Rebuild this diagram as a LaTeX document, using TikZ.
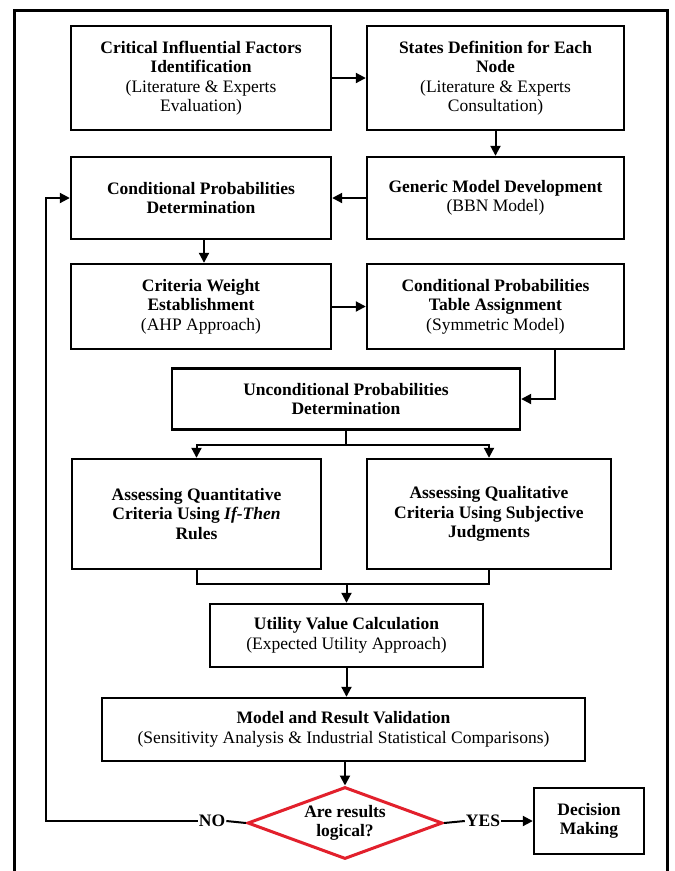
\documentclass[tikz,border=0pt]{standalone}
\usepackage{fontspec}
\setmainfont{Liberation Serif}
\usetikzlibrary{shapes.geometric,arrows.meta,calc}
\definecolor{dred}{RGB}{226,32,44}
\begin{document}
\begin{tikzpicture}[x=1pt,y=-1pt,
  box/.style={draw,line width=2.4pt,align=center,inner sep=2pt,
    font=\fontsize{17.5}{19.5}\selectfont},
  arr/.style={line width=2pt,-{Triangle[length=10pt,width=10pt]}},
  ln/.style={line width=2pt},
  lbl/.style={font=\fontsize{17.5}{19.5}\selectfont\bfseries,inner sep=1pt}]
\useasboundingbox (0,0) rectangle (675,871);
\fill[white] (0,0) rectangle (675,871);
\draw[line width=3pt] (14,871) -- (14,10) -- (667.5,10) -- (667.5,871);

\node[box,minimum width=260pt,minimum height=104pt] (b1) at (201,78)
  {\textbf{Critical Influential Factors}\\\textbf{Identification}\\(Literature \& Experts\\Evaluation)};
\node[box,minimum width=257pt,minimum height=104pt] (b2) at (495.5,78)
  {\textbf{States Definition for Each}\\\textbf{Node}\\(Literature \& Experts\\Consultation)};
\node[box,minimum width=260pt,minimum height=82pt] (b3) at (201,198)
  {\textbf{Conditional Probabilities}\\\textbf{Determination}};
\node[box,minimum width=257pt,minimum height=82pt] (b4) at (495.5,198)
  {\textbf{Generic Model Development}\\(BBN Model)};
\node[box,minimum width=260pt,minimum height=85pt] (b5) at (201,306.5)
  {\textbf{Criteria Weight}\\\textbf{Establishment}\\(AHP Approach)};
\node[box,minimum width=257pt,minimum height=85pt] (b6) at (495.5,306.5)
  {\textbf{Conditional Probabilities}\\\textbf{Table Assignment}\\(Symmetric Model)};
\node[box,minimum width=348pt,minimum height=61pt] (b7) at (346,399)
  {\textbf{Unconditional Probabilities}\\\textbf{Determination}};
\node[box,minimum width=249pt,minimum height=110pt] (b8) at (196.5,514)
  {\textbf{Assessing Quantitative}\\\textbf{Criteria Using \textit{If-Then}}\\\textbf{Rules}};
\node[box,minimum width=244pt,minimum height=110pt] (b9) at (489,514)
  {\textbf{Assessing Qualitative}\\\textbf{Criteria Using Subjective}\\\textbf{Judgments}};
\node[box,minimum width=273pt,minimum height=63pt] (b10) at (346.5,635.5)
  {\textbf{Utility Value Calculation}\\(Expected Utility Approach)};
\node[box,minimum width=483pt,minimum height=63pt] (b11) at (343.5,729.5)
  {\textbf{Model and Result Validation}\\(Sensitivity Analysis \& Industrial Statistical Comparisons)};
\node[box,shape=diamond,draw=dred,line width=3pt,aspect=2.7,inner sep=0pt,
  minimum width=195pt,minimum height=72pt] (dia) at (345,823)
  {\textbf{Are results}\\\textbf{logical?}};
\node[box,minimum width=110pt,minimum height=66pt] (b12) at (589,821)
  {\textbf{Decision}\\\textbf{Making}};
\node[lbl] (no) at (212,821) {NO};
\node[lbl] (yes) at (483,821) {YES};
\coordinate (loop) at (46,821);

\draw[arr] (b1.east) -- (b2.west);
\draw[arr] (b2.south) -- (b4.north);
\draw[arr] (b4.west) -- (b3.east);
\draw[arr] ([xshift=3pt]b3.south) -- ([xshift=3pt]b5.north);
\draw[arr] (b5.east) -- (b6.west);
\draw[arr] ([xshift=59.5pt]b6.south) |- (b7.east);
\draw[ln] (b7.south) -- ++(0,14) coordinate (split);
\draw[arr] (split) -| (b8.north);
\draw[arr] (split) -| (b9.north);
\draw[ln] (b8.south) -- ++(0,14) coordinate (join) -| (b9.south);
\draw[arr] (join -| b10.north) -- (b10.north);
\draw[arr] (b10.south) -- (b10.south |- b11.north);
\draw[arr] (b11.south -| dia.north) -- (dia.north);
\draw[ln] (dia.west) -- (no.east);
\draw[arr] (no.west) -- (loop) |- (b3.west);
\draw[ln] (dia.east) -- (yes.west);
\draw[arr] (yes.east) -- (b12.west);
\end{tikzpicture}
\end{document}
